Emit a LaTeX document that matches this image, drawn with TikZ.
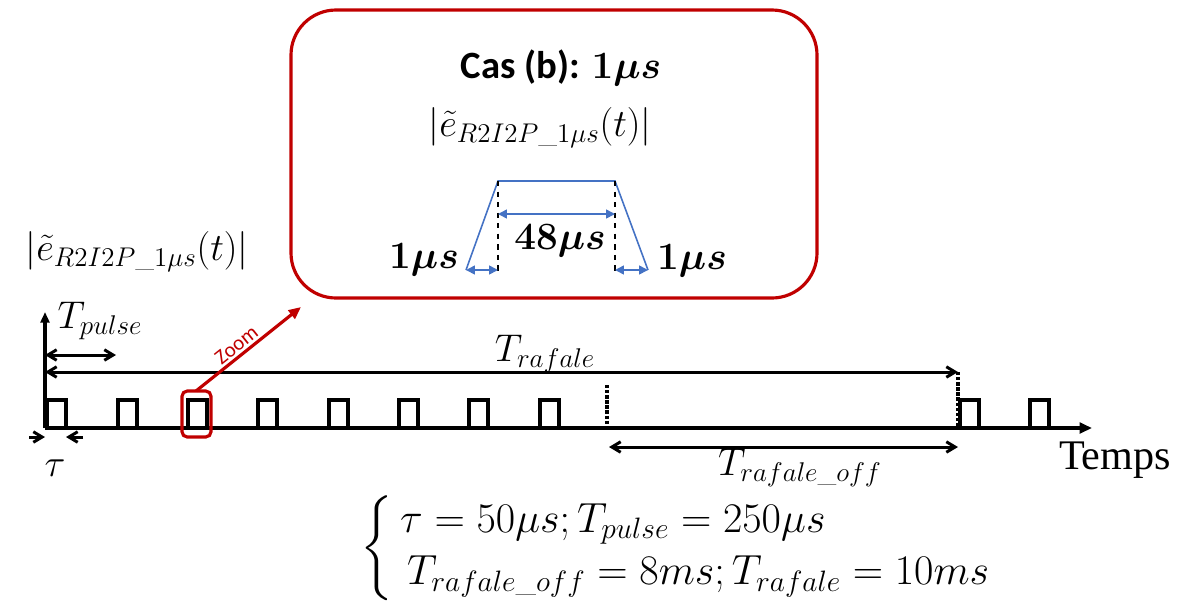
\RequirePackage{fix-cm}
\documentclass[tikz,border=0pt]{standalone}
\usepackage{amsmath}
\usepackage{fontspec}
\setsansfont{Carlito}
\newfontfamily\tempsfont{Liberation Serif}
\usetikzlibrary{arrows.meta}

\definecolor{zoomred}{RGB}{192,0,0}
\definecolor{trapblue}{RGB}{68,114,196}

\newcommand{\bfmu}[1]{{\boldmath$#1$}}

\tikzset{
  sig/.style={line width=2pt, black},
  dimarrow/.style={line width=1.7pt, {Straight Barb[length=5pt,width=6pt]}-{Straight Barb[length=5pt,width=6pt]}},
  bluearrow/.style={line width=0.9pt, trapblue, {Triangle[length=5pt,width=5pt]}-{Triangle[length=5pt,width=5pt]}},
  lbl/.style={inner sep=0pt, font=\fontsize{22}{26}\selectfont},
}

\begin{document}
\begin{tikzpicture}[x=0.02cm, y=-0.02cm]
  \useasboundingbox (0,0) rectangle (1182,603);

  % inset
  \draw[zoomred, line width=1.8pt, rounded corners=0.9cm] (291,10) rectangle (817,298);
  \node[inner sep=0pt, font=\sffamily\bfseries\fontsize{22}{26}\selectfont] (cas) at (561,68) {Cas (b): \bfmu{1\mu s}};
  \node[lbl] (einset) at (540,128) {$\left|\tilde{e}_{R2I2P\_1\mu s}(t)\right|$};

  \coordinate (tl) at (498,181);
  \coordinate (tr) at (615,181);
  \coordinate (bl) at (466,270);
  \coordinate (br) at (648,270);
  \draw[trapblue, line width=0.9pt] (bl) -- (tl) -- (tr) -- (br);
  \draw[dashed, line width=0.8pt] (tl) -- (498,275);
  \draw[dashed, line width=0.8pt] (tr) -- (615,275);
  \draw[bluearrow] (498,214) -- (615,214);
  \draw[bluearrow] (bl) -- (498,270);
  \draw[bluearrow] (615,270) -- (br);
  \node[lbl] (riseL) at (424,260) {\bfmu{1\mu s}};
  \node[lbl] (flat) at (560,241) {\bfmu{48\mu s}};
  \node[lbl] (riseR) at (692,261) {\bfmu{1\mu s}};

  % signal axes
  \node[lbl] (eleft) at (137,252) {$\left|\tilde{e}_{R2I2P\_1\mu s}(t)\right|$};
  \coordinate (O) at (45,428);
  \draw[sig, -{Triangle[length=6pt,width=5pt]}] (O) -- (45,312);
  \draw[sig, -{Triangle[length=7pt,width=6pt]}] (O) -- (1092,428);
  \node[inner sep=0pt, font=\tempsfont\fontsize{24}{28}\selectfont] (temps) at (1115,460) {Temps};

  % pulses
  \foreach \x in {47,118,188,258,329,399,469,540,960,1030}
    \draw[sig] (\x,428) -- (\x,400) -- (\x+19,400) -- (\x+19,428);
  \draw[line width=1.9pt, densely dotted] (607,385) -- (607,428);
  \draw[line width=1.9pt, densely dotted] (958,372) -- (958,428);

  % durations
  \node[lbl] (tpulse) at (100,321) {$T_{pulse}$};
  \draw[dimarrow] (45,355) -- (116,355);
  \node[lbl] (traf) at (545,354) {$T_{rafale}$};
  \draw[dimarrow] (45,372) -- (958,372);
  \draw[line width=1.7pt, -{Straight Barb[length=5pt,width=6pt]}] (29,437) -- (45,437);
  \draw[line width=1.7pt, -{Straight Barb[length=5pt,width=6pt]}] (83,437) -- (66,437);
  \node[lbl] (tau) at (55,468) {$\tau$};
  \draw[dimarrow] (609,447) -- (958,447);
  \node[lbl] (toff) at (800,468) {$T_{rafale\_off}$};

  % zoom
  \draw[zoomred, line width=1.8pt, rounded corners=3pt] (182,391) rectangle (211,437);
  \coordinate (zs) at (196,391);
  \coordinate (ze) at (301,307);
  \draw[zoomred, line width=1.8pt, -{Triangle[length=7pt,width=6pt]}] (zs) -- (ze)
    node[pos=0.45, above, sloped, inner sep=1.5pt, font=\sffamily\fontsize{12}{14}\selectfont] (zoomlbl) {Zoom};

  % values
  \node[anchor=west, inner sep=0pt, font=\fontsize{24}{30}\selectfont] (vals) at (360,548)
    {$\left\{\begin{array}{@{\,}l}
      \tau=50\mu s; T_{pulse}=250\mu s\\
      \,T_{rafale\_off}=8ms; T_{rafale}=10ms
    \end{array}\right.$};
\end{tikzpicture}
\end{document}
